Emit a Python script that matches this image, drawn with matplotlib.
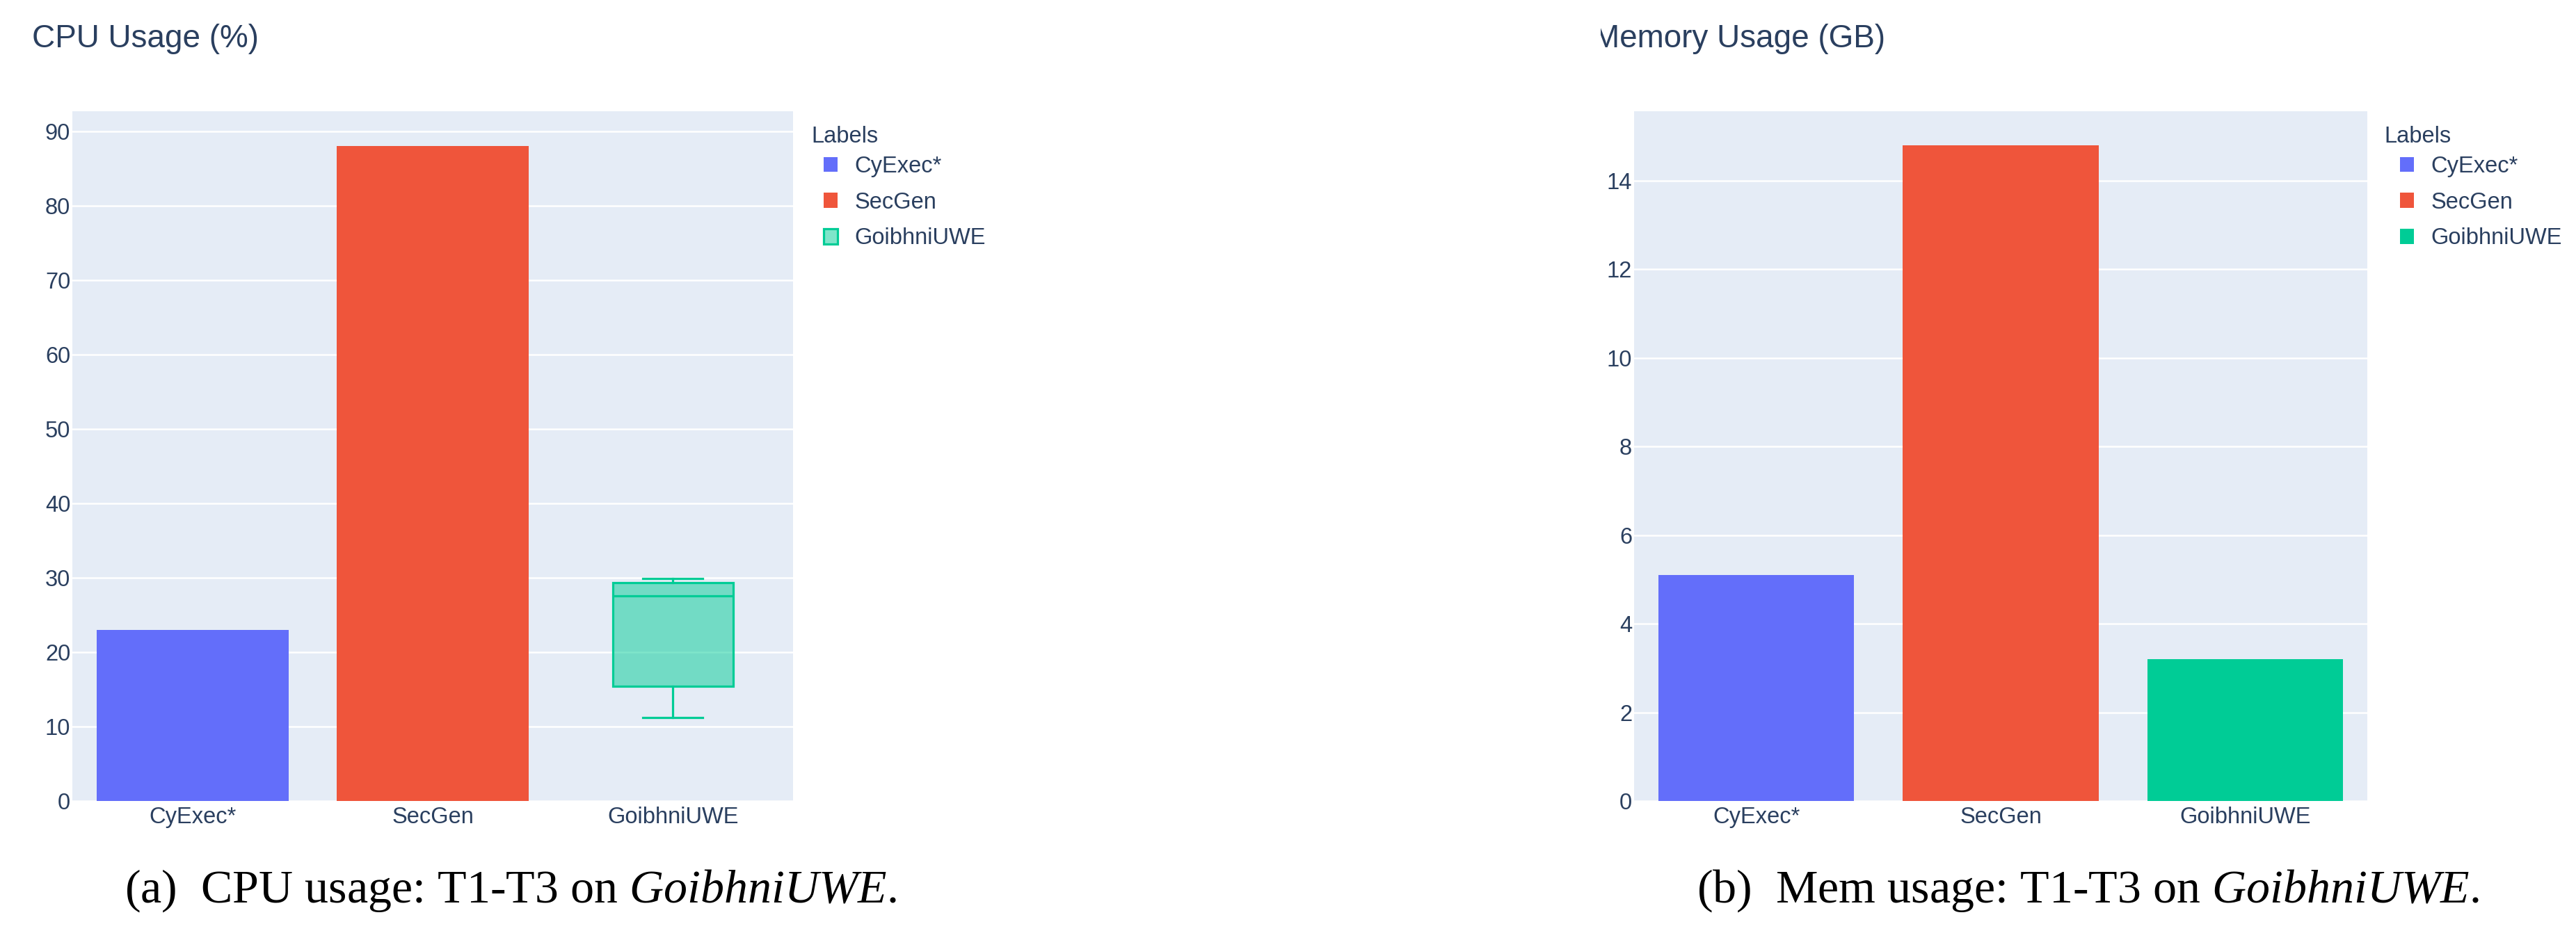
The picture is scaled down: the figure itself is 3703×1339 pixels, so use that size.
import matplotlib
matplotlib.use('Agg')
import matplotlib.pyplot as plt
from matplotlib.patches import Patch
from matplotlib.transforms import Bbox

# data
labels = ['CyExec*', 'SecGen', 'GoibhniUWE']
cpu_bars = [23.0, 88.0]                      # CyExec*, SecGen
cpu_goibhni = [11.2, 15.4, 27.6, 29.3, 29.9]  # whislo, q1, med, q3, whishi
mem_usage = [5.1, 14.8, 3.2]
cpu_ticks = [0, 10, 20, 30, 40, 50, 60, 70, 80, 90]
mem_ticks = [0, 2, 4, 6, 8, 10, 12, 14]

colors = ['#636efa', '#ef553b', '#00cc96']
box_fill = (0.0, 0.8, 0.588, 0.5)
txt = '#2a3f5f'
bg = '#e5ecf6'
fs = 23.5

plt.rcParams['font.family'] = ['Liberation Sans', 'DejaVu Sans']
plt.rcParams['mathtext.fontset'] = 'custom'
plt.rcParams['mathtext.it'] = 'Liberation Serif:italic'
plt.rcParams['mathtext.rm'] = 'Liberation Serif'

W, H = 3703, 1339
fig = plt.figure(figsize=(W / 100, H / 100), dpi=100)


def px_axes(x0, y0, x1, y1):
    return fig.add_axes([x0 / W, 1 - y1 / H, (x1 - x0) / W, (y1 - y0) / H])


def style(ax, ymax, ticks):
    ax.set_facecolor(bg)
    for s in ax.spines.values():
        s.set_visible(False)
    ax.set_xlim(-0.5, 2.5)
    ax.set_ylim(0, ymax)
    ax.set_yticks(ticks)
    ax.set_xticks(range(len(labels)))
    ax.set_xticklabels(labels)
    ax.tick_params(axis='x', length=0, pad=6, labelsize=fs, labelcolor=txt)
    ax.tick_params(axis='y', length=0, pad=2, labelsize=fs, labelcolor=txt)
    ax.grid(axis='y', color='white', linewidth=1.8)
    ax.set_axisbelow(True)


# (a) cpu
ax1 = px_axes(104, 160, 1140, 1152)
style(ax1, 92.7, cpu_ticks)
ax1.bar([0, 1], cpu_bars, width=0.8, color=colors[:2])
stats = [{'whislo': cpu_goibhni[0], 'q1': cpu_goibhni[1], 'med': cpu_goibhni[2],
          'q3': cpu_goibhni[3], 'whishi': cpu_goibhni[4], 'fliers': []}]
ax1.bxp(stats, positions=[2], widths=0.5, capwidths=[0.25], patch_artist=True,
        showfliers=False, manage_ticks=False,
        boxprops=dict(facecolor=box_fill, edgecolor=colors[2], linewidth=2.3),
        medianprops=dict(color=colors[2], linewidth=2.3),
        whiskerprops=dict(color=colors[2], linewidth=2.3),
        capprops=dict(color=colors[2], linewidth=2.3))

# (b) memory
ax2 = px_axes(2349, 160, 3403, 1152)
style(ax2, 15.57, mem_ticks)
ax2.bar(range(3), mem_usage, width=0.8, color=colors)

# titles
fig.text(46 / W, 1 - 56 / H, 'CPU Usage (%)', fontsize=33, color=txt, ha='left', va='center')
t2 = fig.text(2290 / W, 1 - 56 / H, 'Memory Usage (GB)', fontsize=33, color=txt, ha='left', va='center')
t2.set_clip_box(Bbox([[2301, 0], [W, H]]))
t2.set_clip_on(True)

# legends
h1 = [Patch(facecolor=colors[0]), Patch(facecolor=colors[1]),
      Patch(facecolor=box_fill, edgecolor=colors[2], linewidth=2.3)]
h2 = [Patch(facecolor=c) for c in colors]
for hs, tx, mx in [(h1, 1166, 1184), (h2, 3427, 3450)]:
    fig.text(tx / W, 1 - 205 / H, 'Labels', fontsize=fs, color=txt, ha='left', va='baseline')
    fig.legend(hs, labels, loc='upper left', bbox_to_anchor=(mx / W, 1 - 224 / H),
               frameon=False, fontsize=fs, labelcolor=txt, borderpad=0, borderaxespad=0,
               handlelength=0.61, handleheight=0.65, handletextpad=0.74, labelspacing=0.63)

# captions
cap_kw = dict(fontsize=49, family='Liberation Serif', color='black', ha='left', va='baseline')
fig.text(179 / W, 1 - 1298 / H, r'(a)  CPU usage: T1-T3 on $\mathit{GoibhniUWE}$.', **cap_kw)
fig.text(2439 / W, 1 - 1298 / H, r'(b)  Mem usage: T1-T3 on $\mathit{GoibhniUWE}$.', **cap_kw)

fig.savefig('out.png', dpi=100, facecolor='white')
